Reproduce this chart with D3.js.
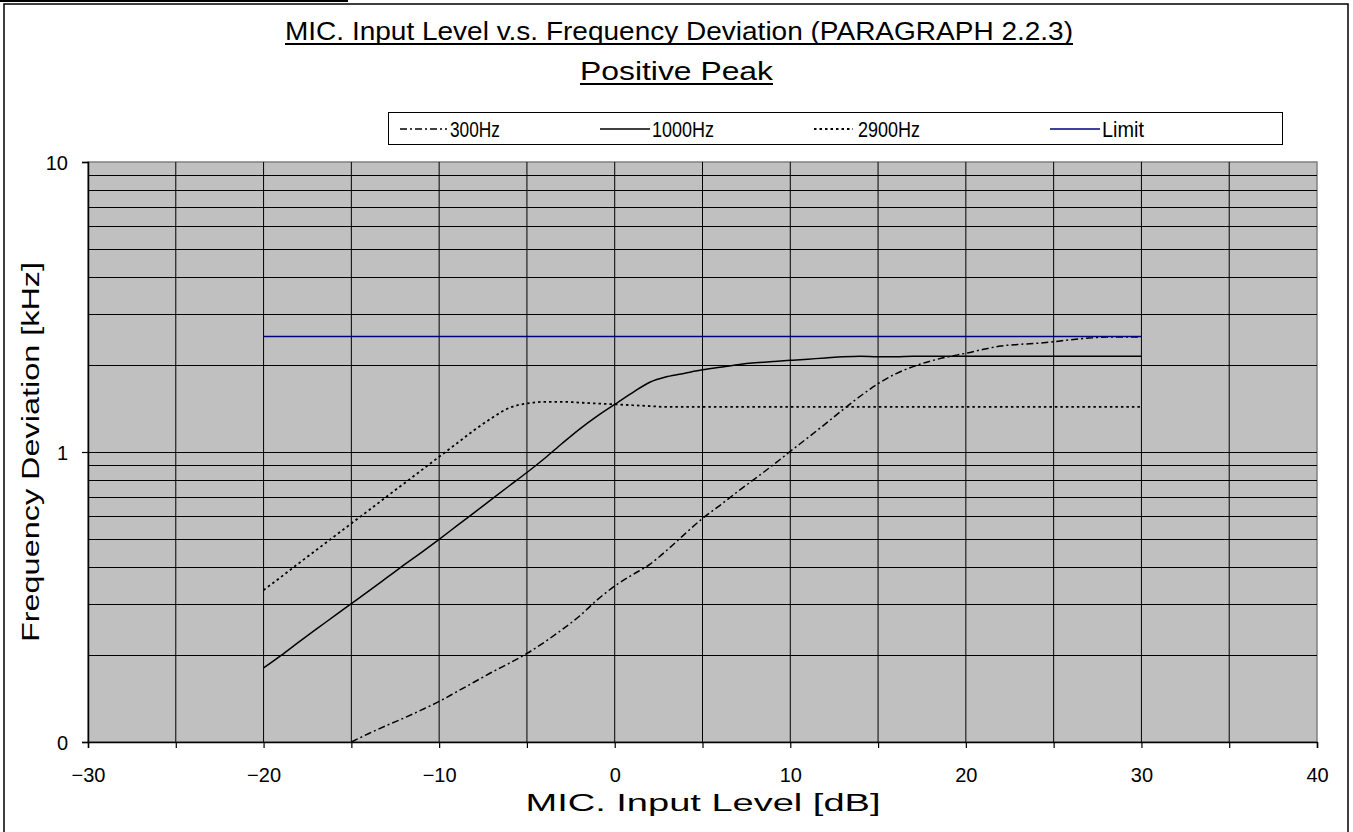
<!DOCTYPE html>
<html><head><meta charset="utf-8">
<script src="https://cdn.jsdelivr.net/npm/d3@7"></script>
<style>
body{margin:0;background:#fff}
svg{display:block}
text{font-family:"Liberation Sans",Arial,sans-serif;fill:#000}
</style>
</head><body>
<svg id="chart" width="1353" height="832"></svg>
<script>
// ---------- data ----------
const titleText = "MIC. Input Level v.s. Frequency Deviation (PARAGRAPH 2.2.3)";
const subtitleText = "Positive Peak";
const xTitle = "MIC. Input Level [dB]";
const yTitle = "Frequency Deviation [kHz]";

const xTickValues = [-30, -20, -10, 0, 10, 20, 30, 40];
const xGridValues = [-30, -25, -20, -15, -10, -5, 0, 5, 10, 15, 20, 25, 30, 35, 40];
const yTickValues = [0.1, 1, 10];
const yTickLabels = ["0", "1", "10"];
const yGridValues = [0.2, 0.3, 0.4, 0.5, 0.6, 0.7, 0.8, 0.9, 1, 2, 3, 4, 5, 6, 7, 8, 9];

const seriesNames = ["300Hz", "1000Hz", "2900Hz", "Limit"];

const level300 = [-15,-14,-13,-12,-11,-10,-9,-8,-7,-6,-5,-4,-3,-2,-1,0,1,2,3,4,5,6,7,8,9,10,11,12,13,14,15,16,17,18,19,20,21,22,23,24,25,26,27,28,29,30];
const dev300 = [0.100,0.107,0.114,0.121,0.129,0.138,0.149,0.161,0.174,0.187,0.202,0.221,0.244,0.272,0.309,0.345,0.377,0.410,0.460,0.522,0.590,0.655,0.730,0.810,0.900,1.005,1.12,1.25,1.40,1.56,1.72,1.86,1.97,2.06,2.13,2.19,2.26,2.32,2.35,2.37,2.40,2.44,2.47,2.49,2.49,2.49];

const level1000 = [-20,-19,-18,-17,-16,-15,-14,-13,-12,-11,-10,-9,-8,-7,-6,-5,-4,-3,-2,-1,0,1,2,3,4,5,6,7,8,9,10,11,12,13,14,15,16,17,18,19,20,21,22,23,24,25,26,27,28,29,30];
const dev1000 = [0.180,0.199,0.221,0.245,0.271,0.300,0.332,0.368,0.408,0.451,0.500,0.556,0.618,0.688,0.765,0.850,0.950,1.07,1.20,1.33,1.46,1.60,1.74,1.82,1.87,1.92,1.96,2.00,2.03,2.05,2.07,2.09,2.11,2.13,2.14,2.13,2.13,2.14,2.14,2.14,2.14,2.14,2.14,2.14,2.14,2.14,2.14,2.14,2.14,2.14,2.14];

const level2900 = [-20,-19,-18,-17,-16,-15,-14,-13,-12,-11,-10,-9,-8,-7,-6,-5,-4,-3,-2,-1,0,1,2,3,4,5,6,7,8,9,10,11,12,13,14,15,16,17,18,19,20,21,22,23,24,25,26,27,28,29,30];
const dev2900 = [0.334,0.371,0.413,0.459,0.510,0.567,0.630,0.701,0.779,0.866,0.963,1.07,1.19,1.31,1.42,1.47,1.49,1.49,1.48,1.47,1.46,1.45,1.44,1.43,1.43,1.43,1.43,1.43,1.43,1.43,1.43,1.43,1.43,1.43,1.43,1.43,1.43,1.43,1.43,1.43,1.43,1.43,1.43,1.43,1.43,1.43,1.43,1.43,1.43,1.43,1.43];

const levelLimit = [-20, 30];
const devLimit = [2.5, 2.5];

// ---------- layout ----------
const svg = d3.select("#chart");
const plot = {left: 88, right: 1317, top: 162, bottom: 742};

const x = d3.scaleLinear().domain([-30, 40]).range([plot.left, plot.right]);
const y = d3.scaleLog().domain([0.1, 10]).range([plot.bottom, plot.top]);

// outer frame
svg.append("rect").attr("x", 4).attr("y", 4).attr("width", 1344).attr("height", 840)
  .attr("fill", "#fff").attr("stroke", "#000").attr("stroke-width", 1.5);
// cut-off line from page above
svg.append("line").attr("x1", 0).attr("x2", 348).attr("y1", 1).attr("y2", 1)
  .attr("stroke", "#000").attr("stroke-width", 2);

// titles
function underlinedText(txt, cx, baseline, size, width) {
  const t = svg.append("text").attr("x", cx).attr("y", baseline)
    .attr("text-anchor", "middle").style("font-size", size + "px").text(txt);
  if (width) t.attr("textLength", width).attr("lengthAdjust", "spacingAndGlyphs");
  svg.append("line").attr("x1", cx - width / 2).attr("x2", cx + width / 2)
    .attr("y1", baseline + 4).attr("y2", baseline + 4)
    .attr("stroke", "#000").attr("stroke-width", 2);
}
underlinedText(titleText, 679, 40, 25, 788);
underlinedText(subtitleText, 676.5, 80, 25, 193);

// plot background
svg.append("rect").attr("x", plot.left).attr("y", plot.top)
  .attr("width", plot.right - plot.left).attr("height", plot.bottom - plot.top)
  .attr("fill", "#c0c0c0").attr("stroke", "#808080").attr("stroke-width", 1.5);

// gridlines
svg.append("g").selectAll("line").data(xGridValues.filter(v => v > -30 && v < 40)).join("line")
  .attr("x1", d => x(d)).attr("x2", d => x(d))
  .attr("y1", plot.top).attr("y2", plot.bottom)
  .attr("stroke", "#000").attr("stroke-width", 1);
svg.append("g").selectAll("line").data(yGridValues).join("line")
  .attr("x1", plot.left).attr("x2", plot.right)
  .attr("y1", d => Math.round(y(d)) + 0.5).attr("y2", d => Math.round(y(d)) + 0.5)
  .attr("stroke", "#000").attr("stroke-width", 1);

// axes
const xAxis = d3.axisBottom(x).tickValues(xGridValues).tickSize(6)
  .tickFormat(d => xTickValues.includes(d) ? d3.format("")(d).replace("-", "\u2212") : "");
const gx = svg.append("g").attr("transform", `translate(0,${plot.bottom})`).call(xAxis);
gx.attr("font-size", null).attr("font-family", null);
gx.select(".domain").attr("stroke", "#000").attr("stroke-width", 1.5);
gx.selectAll(".tick line").attr("stroke", "#000").attr("stroke-width", 1.2);
gx.selectAll(".tick text").style("font-size", "20px").attr("dy", "1.55em");

const yAxis = d3.axisLeft(y).tickValues(yTickValues).tickSize(6)
  .tickFormat((d, i) => yTickLabels[i]);
const gy = svg.append("g").attr("transform", `translate(${plot.left},0)`).call(yAxis);
gy.attr("font-size", null).attr("font-family", null);
gy.select(".domain").attr("stroke", "#000").attr("stroke-width", 1.5);
gy.selectAll(".tick line").attr("stroke", "#000").attr("stroke-width", 1.2);
gy.selectAll(".tick text").style("font-size", "20px").attr("x", -20).attr("dy", "0.36em");

// axis titles
svg.append("text").attr("x", 703).attr("y", 811).attr("text-anchor", "middle")
  .style("font-size", "23px").attr("textLength", 355).attr("lengthAdjust", "spacingAndGlyphs").text(xTitle);
svg.append("text").attr("transform", "translate(39,452) rotate(-90)").attr("text-anchor", "middle")
  .style("font-size", "23px").attr("textLength", 380).attr("lengthAdjust", "spacingAndGlyphs").text(yTitle);

// series
svg.append("clipPath").attr("id", "clipPlot").append("rect")
  .attr("x", plot.left).attr("y", plot.top - 2).attr("width", plot.right - plot.left).attr("height", plot.bottom - plot.top + 2);

const series = [
  {name: seriesNames[0], xs: level300, ys: dev300, color: "#000", dash: "7,3,2,3", w: 1.5},
  {name: seriesNames[1], xs: level1000, ys: dev1000, color: "#000", dash: null, w: 1.5},
  {name: seriesNames[2], xs: level2900, ys: dev2900, color: "#000", dash: "2.5,3", w: 1.8},
  {name: seriesNames[3], xs: levelLimit, ys: devLimit, color: "#000080", dash: null, w: 1.5}
];
const line = d3.line().x(d => x(d[0])).y(d => y(d[1])).curve(d3.curveMonotoneX);
const gs = svg.append("g").attr("clip-path", "url(#clipPlot)");
series.forEach(s => {
  gs.append("path").datum(s.xs.map((v, i) => [v, s.ys[i]]))
    .attr("d", line).attr("fill", "none").attr("stroke", s.color)
    .attr("stroke-width", s.w).attr("stroke-dasharray", s.dash);
});

// legend
svg.append("rect").attr("x", 388.5).attr("y", 112.5).attr("width", 894).attr("height", 32)
  .attr("fill", "#fff").attr("stroke", "#000").attr("stroke-width", 1);
const legendPos = [[400, 447, 450, 50], [600, 650, 652, 62], [814, 853, 858, 62], [1050, 1100, 1102, 42]];
series.forEach((s, i) => {
  const p = legendPos[i];
  svg.append("line").attr("x1", p[0]).attr("x2", p[1]).attr("y1", 129).attr("y2", 129)
    .attr("stroke", s.color).attr("stroke-width", s.w).attr("stroke-dasharray", s.dash);
  svg.append("text").attr("x", p[2]).attr("y", 137).style("font-size", "22px")
    .attr("textLength", p[3]).attr("lengthAdjust", "spacingAndGlyphs").text(s.name);
});
</script>
</body></html>
